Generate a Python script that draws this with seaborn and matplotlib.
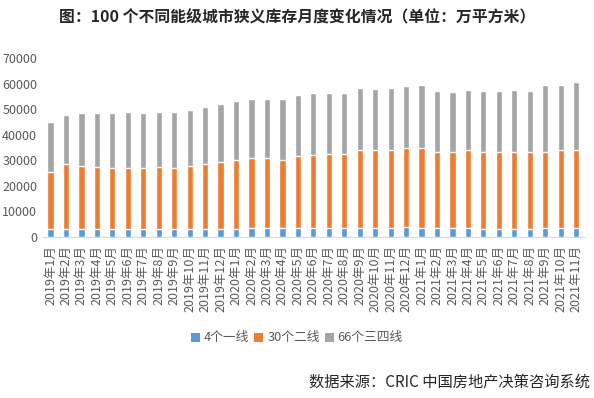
import numpy as np
import pandas as pd
import matplotlib
matplotlib.use("Agg")
import matplotlib.pyplot as plt
from matplotlib.patches import Patch
import seaborn as sns

# Monthly inventory by city tier (10k sqm)
months = [
    "2019年1月", "2019年2月", "2019年3月", "2019年4月", "2019年5月", "2019年6月",
    "2019年7月", "2019年8月", "2019年9月", "2019年10月", "2019年11月", "2019年12月",
    "2020年1月", "2020年2月", "2020年3月", "2020年4月", "2020年5月", "2020年6月",
    "2020年7月", "2020年8月", "2020年9月", "2020年10月", "2020年11月", "2020年12月",
    "2021年1月", "2021年2月", "2021年3月", "2021年4月", "2021年5月", "2021年6月",
    "2021年7月", "2021年8月", "2021年9月", "2021年10月", "2021年11月",
]
tier1 = [3000, 3000, 3000, 3000, 3000, 3000, 3000, 3000, 3000, 3000, 3000, 3000,
         3000, 3500, 3500, 3500, 3500, 3500, 3500, 3500, 3500, 3500, 3500, 3800,
         3500, 3500, 3500, 3500, 3000, 3000, 3000, 3000, 3500, 3500, 3500]
tier2 = [22600, 25500, 24700, 24200, 23900, 23900, 23900, 24200, 23900, 24700, 25700, 26300,
         27000, 27300, 27300, 26800, 28100, 28400, 28900, 28900, 30700, 30400, 30700, 31200,
         31200, 29900, 29900, 30400, 30200, 30200, 30200, 30200, 29900, 30400, 30700]
tier3 = [19300, 19400, 20700, 21200, 21500, 22100, 21700, 21800, 22100, 22100, 22300, 22600,
         23300, 23300, 23300, 23800, 24100, 24500, 24000, 24000, 24200, 24100, 24200, 24200,
         24900, 23800, 23400, 23700, 24000, 24000, 24400, 24000, 26200, 25700, 26500]

series_names = ["4个一线", "30个二线", "66个三四线"]
colors = ["#5B9BD5", "#ED7D31", "#A5A5A5"]

df = pd.DataFrame({"month": months, "t1": tier1, "t2": tier2, "t3": tier3})
df["c1"] = df["t1"]
df["c2"] = df["t1"] + df["t2"]
df["c3"] = df["c2"] + df["t3"]

sns.set_style("white")
plt.rcParams["font.family"] = ["Noto Sans CJK SC", "DejaVu Sans"]

fig = plt.figure(figsize=(5.94, 3.98), dpi=100)
ax = fig.add_axes([0.072, 0.4045, 0.911, 0.4495])

# stacked look: draw cumulative totals from top layer down
for col, color in zip(["c3", "c2", "c1"], colors[::-1]):
    sns.barplot(data=df, x="month", y=col, color=color, saturation=1,
                width=0.4, order=months, ax=ax)

ax.set_ylim(0, 70000)
ax.set_xlim(-0.5, len(months) - 0.5)
ax.set_yticks(np.arange(0, 70001, 10000))
ax.set_xlabel("")
ax.set_ylabel("")
ax.tick_params(axis="y", length=0, labelsize=9, labelcolor="#595959", pad=4)
ax.tick_params(axis="x", which="major", length=0, labelsize=9.0,
               labelcolor="#595959", rotation=90, pad=6)
ax.set_xticks(np.arange(-0.5, len(months), 1), minor=True)
ax.tick_params(axis="x", which="minor", length=4, color="#D9D9D9", width=1)
for s in ["left", "top", "right"]:
    ax.spines[s].set_visible(False)
ax.spines["bottom"].set_color("#D9D9D9")

fig.text(0.5, 1 - 17 / 398, "图：100 个不同能级城市狭义库存月度变化情况（单位：万平方米）",
         ha="center", va="center", fontsize=11.4, fontweight="bold")

handles = [Patch(facecolor=c, edgecolor="none") for c in colors]
fig.legend(handles, series_names, loc="center", bbox_to_anchor=(0.5, 1 - 338 / 398),
           ncol=3, frameon=False, fontsize=9.2, handlelength=0.7, handleheight=0.7,
           handletextpad=0.3, columnspacing=0.4, labelcolor="#595959")

fig.text(0.993, 1 - 382 / 398, "数据来源：CRIC 中国房地产决策咨询系统",
         ha="right", va="center", fontsize=11)

fig.savefig("out.png", dpi=100)
